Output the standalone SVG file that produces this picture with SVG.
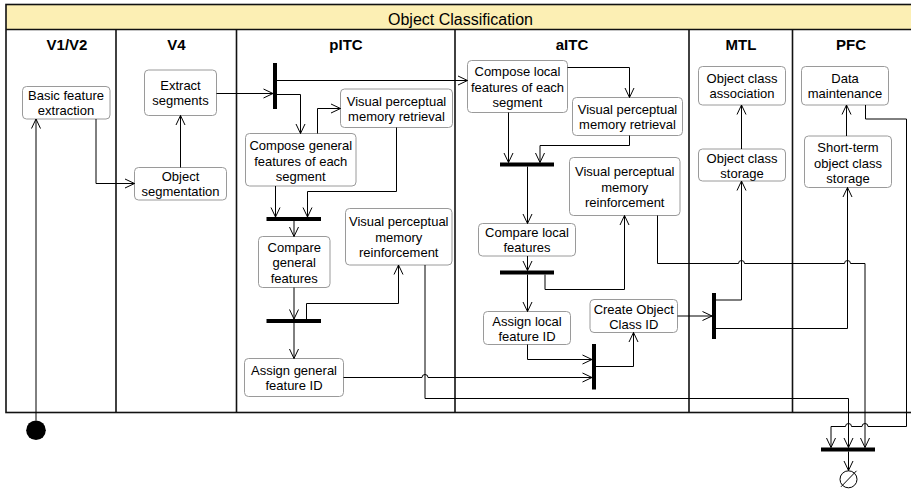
<svg xmlns="http://www.w3.org/2000/svg" width="911" height="490" viewBox="0 0 911 490">
<defs>
<marker id="arr" markerUnits="userSpaceOnUse" markerWidth="12" markerHeight="12" viewBox="0 0 12 12" refX="10.5" refY="6" orient="auto">
<path d="M1,1.5 L10.5,6 L1,10.5" fill="none" stroke="#000" stroke-width="1"/>
</marker>
</defs>
<style>
.frame{fill:none;stroke:#111;stroke-width:1.6}
.div{stroke:#111;stroke-width:1.6}
.hdr{font-family:"Liberation Sans",Arial,sans-serif;font-size:15px;font-weight:bold;text-anchor:middle;fill:#000}
.title{font-family:"Liberation Sans",Arial,sans-serif;font-size:16px;text-anchor:middle;fill:#000}
.node rect{fill:#fff;stroke:#9a9a9a;stroke-width:1}
.node text{font-family:"Liberation Sans",Arial,sans-serif;font-size:13px;text-anchor:middle;fill:#000}
.bar{fill:#000}
#connectors path{fill:none;stroke:#000;stroke-width:1;marker-end:url(#arr)}
</style>
<rect x="0" y="0" width="911" height="490" fill="#fff"/>
<g id="frame">
<rect x="6" y="4.5" width="909" height="24.5" fill="#fcefb4"/>
<rect class="frame" x="6" y="4.5" width="909" height="408"/>
<line class="div" x1="6" y1="29.5" x2="915" y2="29.5"/>
<line class="div" x1="116" y1="29.5" x2="116" y2="412.5"/>
<line class="div" x1="236.5" y1="29.5" x2="236.5" y2="412.5"/>
<line class="div" x1="455" y1="29.5" x2="455" y2="412.5"/>
<line class="div" x1="689" y1="29.5" x2="689" y2="412.5"/>
<line class="div" x1="792.5" y1="29.5" x2="792.5" y2="412.5"/>
<text class="title" x="460.5" y="25">Object Classification</text>
<text class="hdr" x="67" y="49.5">V1/V2</text>
<text class="hdr" x="176.5" y="49.5">V4</text>
<text class="hdr" x="346" y="49.5">pITC</text>
<text class="hdr" x="572" y="49.5">aITC</text>
<text class="hdr" x="741" y="49.5">MTL</text>
<text class="hdr" x="851" y="49.5">PFC</text>
</g>
<g id="start"><circle cx="36" cy="430.3" r="9.8" fill="#000"/></g>
<g id="end"><circle cx="848.5" cy="479.3" r="8.5" fill="#fff" stroke="#000" stroke-width="1"/><line x1="841" y1="486.8" x2="856.5" y2="470.8" stroke="#000" stroke-width="1"/></g>
<g id="bars">
<rect class="bar" x="273" y="63" width="4" height="46"/>
<rect class="bar" x="266.5" y="217" width="54.5" height="4"/>
<rect class="bar" x="266.5" y="319" width="54.5" height="4"/>
<rect class="bar" x="500" y="162.5" width="54" height="4"/>
<rect class="bar" x="500" y="270.5" width="54" height="4"/>
<rect class="bar" x="592" y="344" width="4" height="45.5"/>
<rect class="bar" x="712" y="293" width="4" height="46"/>
<rect class="bar" x="821" y="447.5" width="54" height="4"/>
</g>
<g id="n_basic" class="node"><rect x="22.5" y="86.5" width="87.5" height="32.5" rx="4"/><text x="66" y="100.3">Basic feature</text><text x="66" y="115.3">extraction</text></g>
<g id="n_extract" class="node"><rect x="144.5" y="70" width="72" height="45.5" rx="4"/><text x="180.5" y="90.3">Extract</text><text x="180.5" y="105.3">segments</text></g>
<g id="n_objseg" class="node"><rect x="134.5" y="167.5" width="92" height="32.5" rx="4"/><text x="180.5" y="181.3">Object</text><text x="180.5" y="196.3">segmentation</text></g>
<g id="n_compgen" class="node"><rect x="245.5" y="133.5" width="110.5" height="52.5" rx="4"/><text x="300.75" y="150">Compose general</text><text x="300.75" y="165.5">features of each</text><text x="300.75" y="181">segment</text></g>
<g id="n_vpmr1" class="node"><rect x="340.5" y="89" width="112" height="38.5" rx="4"/><text x="396.5" y="105.8">Visual perceptual</text><text x="396.5" y="120.8">memory retrieval</text></g>
<g id="n_cmpgen" class="node"><rect x="258.5" y="236.5" width="71.5" height="51" rx="4"/><text x="294.25" y="251.5">Compare</text><text x="294.25" y="267">general</text><text x="294.25" y="282.5">features</text></g>
<g id="n_vpmf1" class="node"><rect x="345.5" y="208.5" width="106.5" height="56.5" rx="4"/><text x="398.75" y="226.2">Visual perceptual</text><text x="398.75" y="241.7">memory</text><text x="398.75" y="257.2">reinforcement</text></g>
<g id="n_asgen" class="node"><rect x="244.5" y="358.5" width="99" height="38" rx="4"/><text x="294" y="375">Assign general</text><text x="294" y="390">feature ID</text></g>
<g id="n_complocal" class="node"><rect x="467.5" y="60.5" width="100" height="52" rx="4"/><text x="517.5" y="76">Compose local</text><text x="517.5" y="91.5">features of each</text><text x="517.5" y="107">segment</text></g>
<g id="n_vpmr2" class="node"><rect x="572.5" y="97.5" width="110" height="38" rx="4"/><text x="627.5" y="114">Visual perceptual</text><text x="627.5" y="129">memory retrieval</text></g>
<g id="n_vpmf2" class="node"><rect x="569.5" y="157.5" width="110.5" height="58" rx="4"/><text x="624.75" y="176">Visual perceptual</text><text x="624.75" y="191.5">memory</text><text x="624.75" y="207">reinforcement</text></g>
<g id="n_cmplocal" class="node"><rect x="478.5" y="223.5" width="97" height="32.5" rx="4"/><text x="527" y="237.3">Compare local</text><text x="527" y="252.3">features</text></g>
<g id="n_aslocal" class="node"><rect x="483.5" y="311.5" width="87" height="33" rx="4"/><text x="527" y="325.5">Assign local</text><text x="527" y="340.5">feature ID</text></g>
<g id="n_createid" class="node"><rect x="590" y="299.5" width="87.5" height="33" rx="4"/><text x="633.75" y="313.5">Create Object</text><text x="633.75" y="328.5">Class ID</text></g>
<g id="n_ocassoc" class="node"><rect x="698.5" y="66.5" width="87" height="38.5" rx="4"/><text x="742" y="83.3">Object class</text><text x="742" y="98.3">association</text></g>
<g id="n_ocstore" class="node"><rect x="698.5" y="149" width="87" height="32" rx="4"/><text x="742" y="162.5">Object class</text><text x="742" y="177.5">storage</text></g>
<g id="n_datamaint" class="node"><rect x="801.5" y="66.5" width="87" height="38.5" rx="4"/><text x="845" y="83.3">Data</text><text x="845" y="98.3">maintenance</text></g>
<g id="n_stocs" class="node"><rect x="804.5" y="136" width="87" height="51.5" rx="4"/><text x="848" y="152">Short-term</text><text x="848" y="167.5">object class</text><text x="848" y="183">storage</text></g>
<g id="connectors">
<path d="M36,420.5 V119"/>
<path d="M96,119 V183.5 H134.5"/>
<path d="M180.5,167.5 V115.5"/>
<path d="M216.5,93.5 H273"/>
<path d="M277,80.5 H467.5"/>
<path d="M277,94.5 H300.5 V133.5"/>
<path d="M317.5,133.5 V108.5 H340.5"/>
<path d="M396.5,127.5 V191.5 H307.5 V217"/>
<path d="M275.5,186 V217"/>
<path d="M294,221 V236.5"/>
<path d="M294,287.5 V319"/>
<path d="M306.5,319 V303.5 H398.5 V265"/>
<path d="M294,323 V358.5"/>
<path d="M343.5,377.5 H422 A3,3 0 0 1 428,377.5 H592"/>
<path d="M425,265 V398.5 H848.5 V447.5"/>
<path d="M508.5,112.5 V162.5"/>
<path d="M567.5,67.5 H629.5 V97.5"/>
<path d="M629.5,135.5 V145.5 H540 V162.5"/>
<path d="M527.5,166.5 V223.5"/>
<path d="M527.5,256 V270.5"/>
<path d="M545,274.5 V289.5 H624.5 V215.5"/>
<path d="M527.5,274.5 V311.5"/>
<path d="M527.5,344.5 V359.5 H592"/>
<path d="M596,366.5 H633.5 V332.5"/>
<path d="M677.5,316 H712"/>
<path d="M716,300 H741.5 V181"/>
<path d="M741.5,149 V105"/>
<path d="M716,328.5 H847.5 V187.5"/>
<path d="M846.5,136 V105"/>
<path d="M657.5,215.5 V263.5 H738.5 A3,3 0 0 1 744.5,263.5 H844.5 A3,3 0 0 1 850.5,263.5 H865 V447.5"/>
<path d="M865.5,105 V119 H906.5 V426.5 H868 A3,3 0 0 0 862,426.5 H851.5 A3,3 0 0 0 845.5,426.5 H831 V447.5"/>
<path d="M848.5,451.5 V470.5"/>
</g>
</svg>
